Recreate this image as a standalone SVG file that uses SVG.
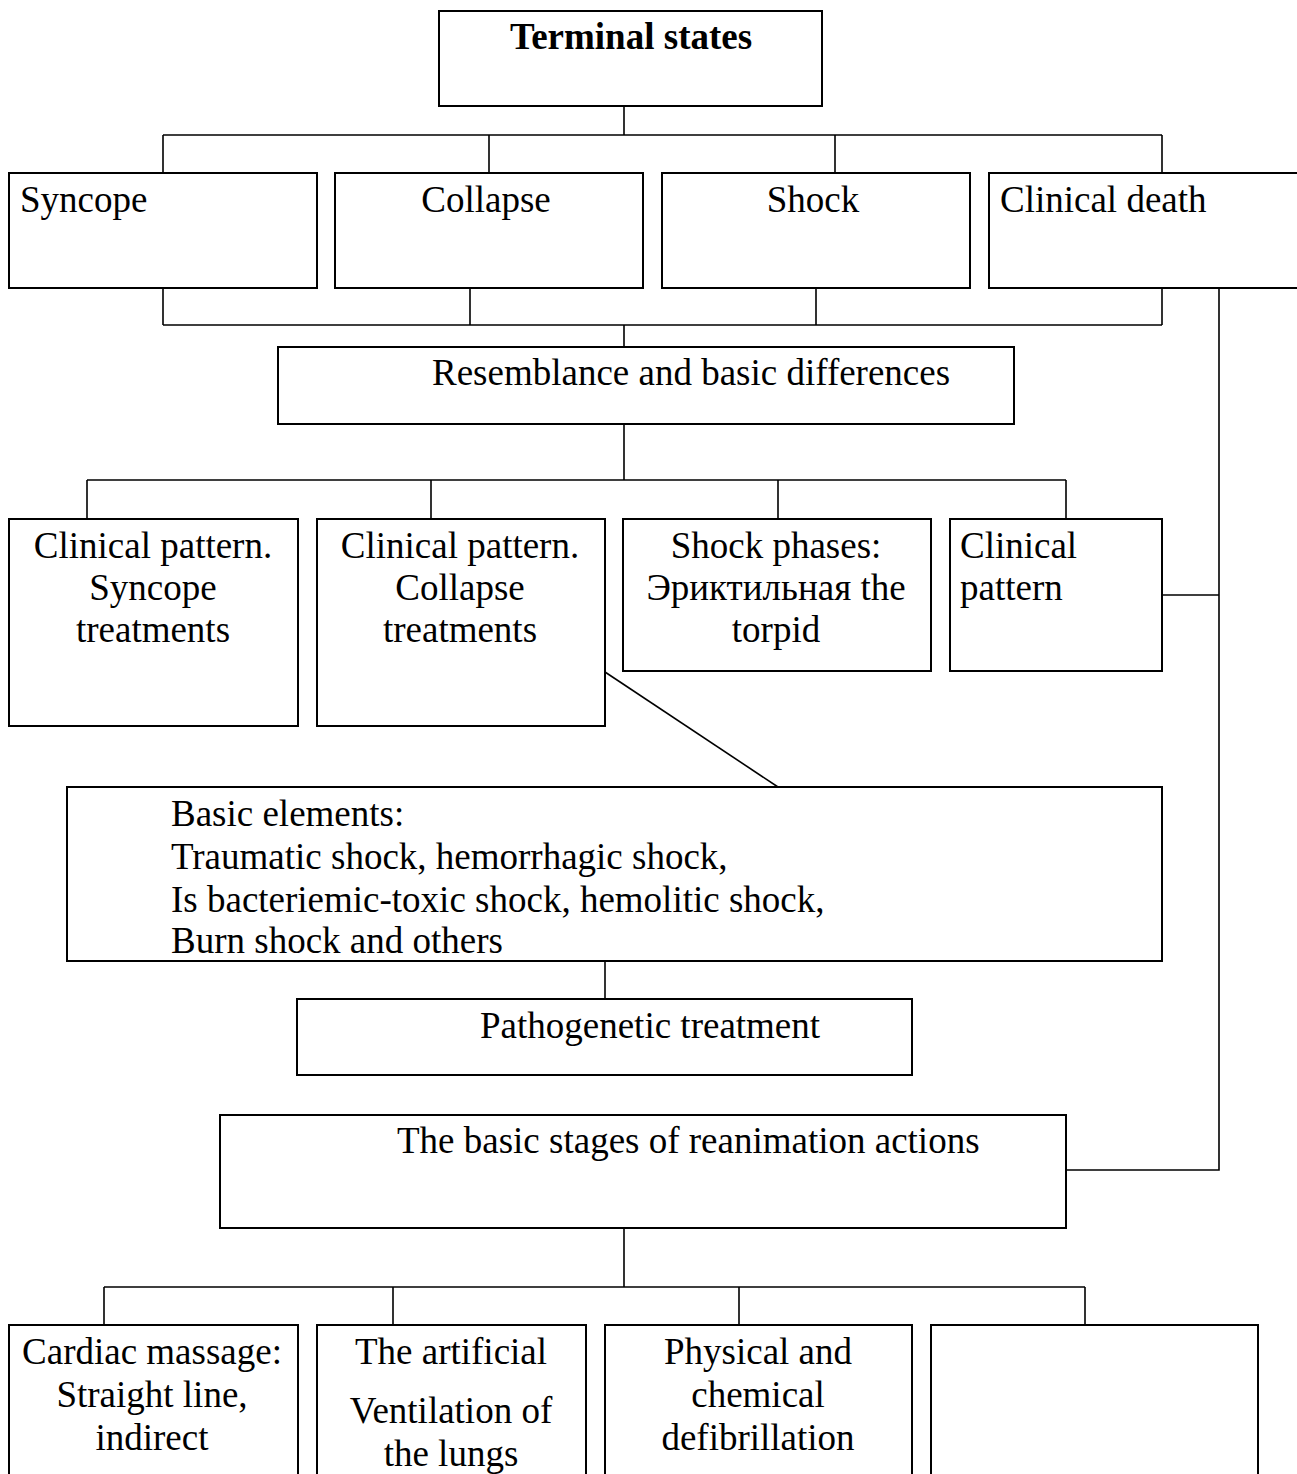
<svg xmlns="http://www.w3.org/2000/svg" width="1297" height="1474" viewBox="0 0 1297 1474">
<style>
.b{fill:#fff;stroke:#000;stroke-width:2}
.c{fill:none;stroke:#000;stroke-width:1.6}
text{font-family:"Liberation Serif","Times New Roman",serif;font-size:37px;fill:#000}
.m{text-anchor:middle}
</style>
<rect x="0" y="0" width="1297" height="1474" fill="#fff"/>
<g id="connectors">
<path class="c" d="M624 96V135M163 135H1162M163 135V173M489 135V173M835 135V173M1162 135V173"/>
<path class="c" d="M163 288V325M470 288V325M816 288V325M1162 288V325M163 325H1162M624 325V347"/>
<path class="c" d="M1219 288V1170H1066M1162 595H1219"/>
<path class="c" d="M624 422V480M87 480H1066M87 480V519M431 480V519M778 480V519M1066 480V519"/>
<path class="c" d="M605 672L778 787"/>
<path class="c" d="M605 961V999"/>
<path class="c" d="M624 1228V1287M104 1287H1085M104 1287V1325M393 1287V1325M739 1287V1325M1085 1287V1325"/>
</g>
<g id="terminal"><rect class="b" x="439" y="11" width="383" height="95"/><text x="631" y="49" class="m" font-weight="bold">Terminal states</text></g>
<g id="syncope"><rect class="b" x="9" y="173" width="308" height="115"/><text x="20" y="212">Syncope</text></g>
<g id="collapse"><rect class="b" x="335" y="173" width="308" height="115"/><text x="486" y="212" class="m">Collapse</text></g>
<g id="shock"><rect class="b" x="662" y="173" width="308" height="115"/><text x="813" y="212" class="m">Shock</text></g>
<g id="clinical-death"><rect class="b" x="989" y="173" width="310" height="115"/><text x="1000" y="212">Clinical death</text></g>
<g id="resemblance"><rect class="b" x="278" y="347" width="736" height="77"/><text x="432" y="385">Resemblance and basic differences</text></g>
<g id="syncope-pattern"><rect class="b" x="9" y="519" width="289" height="207"/><text class="m" x="153" y="558">Clinical pattern.</text><text class="m" x="153" y="600">Syncope</text><text class="m" x="153" y="642">treatments</text></g>
<g id="collapse-pattern"><rect class="b" x="317" y="519" width="288" height="207"/><text class="m" x="460" y="558">Clinical pattern.</text><text class="m" x="460" y="600">Collapse</text><text class="m" x="460" y="642">treatments</text></g>
<g id="shock-phases"><rect class="b" x="623" y="519" width="308" height="152"/><text class="m" x="776" y="558">Shock phases:</text><text class="m" x="776" y="600">Эриктильная the</text><text class="m" x="776" y="642">torpid</text></g>
<g id="clinical-pattern"><rect class="b" x="950" y="519" width="212" height="152"/><text x="960" y="558">Clinical</text><text x="960" y="600">pattern</text></g>
<g id="basic-elements"><rect class="b" x="67" y="787" width="1095" height="174"/><text x="171" y="826">Basic elements:</text><text x="171" y="869">Traumatic shock, hemorrhagic shock,</text><text x="171" y="912">Is bacteriemic-toxic shock, hemolitic shock,</text><text x="171" y="953">Burn shock and others</text></g>
<g id="pathogenetic"><rect class="b" x="297" y="999" width="615" height="76"/><text x="480" y="1038">Pathogenetic treatment</text></g>
<g id="basic-stages"><rect class="b" x="220" y="1115" width="846" height="113"/><text x="397" y="1153">The basic stages of reanimation actions</text></g>
<g id="cardiac"><rect class="b" x="9" y="1325" width="289" height="160"/><text class="m" x="152" y="1364">Cardiac massage:</text><text class="m" x="152" y="1407">Straight line,</text><text class="m" x="152" y="1450">indirect</text></g>
<g id="ventilation"><rect class="b" x="317" y="1325" width="269" height="160"/><text class="m" x="451" y="1364">The artificial</text><text class="m" x="451" y="1423">Ventilation of</text><text class="m" x="451" y="1466">the lungs</text></g>
<g id="defibrillation"><rect class="b" x="605" y="1325" width="307" height="160"/><text class="m" x="758" y="1364">Physical and</text><text class="m" x="758" y="1407">chemical</text><text class="m" x="758" y="1450">defibrillation</text></g>
<g id="empty"><rect class="b" x="931" y="1325" width="327" height="160"/></g>
</svg>
